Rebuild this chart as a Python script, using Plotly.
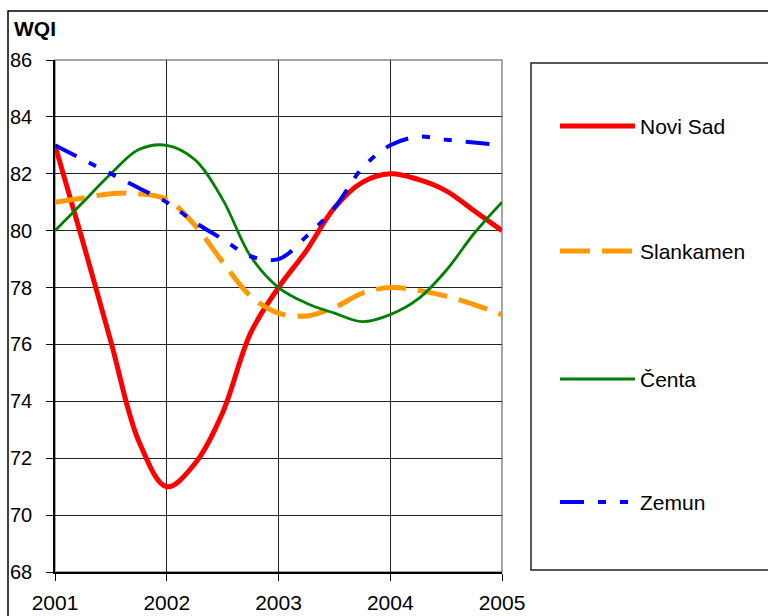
import plotly.graph_objects as go

# ---- data (quarterly points 2001..2005) ----
years = [2001.0, 2001.25, 2001.5, 2001.75, 2002.0, 2002.25, 2002.5, 2002.75,
         2003.0, 2003.25, 2003.5, 2003.75, 2004.0, 2004.25, 2004.5, 2004.75, 2005.0]
novi_sad = [83.0, 79.6, 76.1, 72.6, 71.0, 71.8, 73.6, 76.4,
            78.0, 79.3, 80.8, 81.7, 82.0, 81.8, 81.4, 80.7, 80.0]
slankamen = [81.0, 81.15, 81.3, 81.3, 81.1, 80.2, 78.9, 77.7,
             77.1, 77.0, 77.3, 77.8, 78.0, 77.9, 77.7, 77.4, 77.05]
centa = [80.0, 81.0, 82.0, 82.85, 83.0, 82.5, 81.1, 79.1,
         78.0, 77.45, 77.1, 76.8, 77.05, 77.6, 78.6, 79.9, 81.0]
zemun = [83.0, 82.5, 82.0, 81.5, 81.0, 80.3, 79.7, 79.1,
         79.0, 79.8, 80.8, 82.2, 83.0, 83.3, 83.2, 83.1, 83.0]

series_names = ["Novi Sad", "Slankamen", "Čenta", "Zemun"]
series_values = [novi_sad, slankamen, centa, zemun]
series_colors = ["#FF0000", "#FF9900", "#008000", "#0000FF"]
series_widths = [5, 5, 2.8, 4]
series_dash = ["solid", "30px,12px", "solid", "24px,14px,8px,14px,8px,14px"]

y_ticks = [68, 70, 72, 74, 76, 78, 80, 82, 84, 86]
x_ticks = [2001, 2002, 2003, 2004, 2005]

FONT = "Arial, Liberation Sans, sans-serif"
W, H = 768, 616
L, R, T, B = 55, 502, 60, 572  # plot area in pixels


def px(x, y):
    return (x - L) / (R - L), (B - y) / (B - T)


fig = go.Figure()
for name, vals, col, wd, ds in zip(series_names, series_values, series_colors,
                                   series_widths, series_dash):
    fig.add_trace(go.Scatter(
        x=years, y=vals, mode="lines", name=name,
        line=dict(color=col, width=wd, dash=ds, shape="spline", smoothing=1.0),
        showlegend=False, cliponaxis=True))

shapes = []
# outer chart border (top & left visible)
x0, y0 = px(8, 11)
x1, y1 = px(800, 650)
shapes.append(dict(type="rect", xref="paper", yref="paper", x0=x0, y0=y1, x1=x1, y1=y0,
                   line=dict(color="black", width=1.5), layer="below"))
# plot area border (grey)
shapes.append(dict(type="rect", xref="paper", yref="paper", x0=0, y0=0, x1=1, y1=1,
                   line=dict(color="#888888", width=1.5), layer="below"))
# legend box
lx0, ly0 = px(531, 63)
lx1, ly1 = px(800, 570)
shapes.append(dict(type="rect", xref="paper", yref="paper", x0=lx0, y0=ly1, x1=lx1, y1=ly0,
                   line=dict(color="#222222", width=1.5)))

legend_y = [126, 251, 379, 502]
annotations = []
for name, col, wd, ds, ly in zip(series_names, series_colors, series_widths,
                                 series_dash, legend_y):
    a0, b0 = px(560, ly)
    a1, _ = px(635, ly)
    shapes.append(dict(type="line", xref="paper", yref="paper", x0=a0, y0=b0, x1=a1, y1=b0,
                       line=dict(color=col, width=wd, dash=ds)))
    tx, ty = px(638, ly)
    annotations.append(dict(xref="paper", yref="paper", x=tx, y=ty, text=name,
                            showarrow=False, xanchor="left", yanchor="middle",
                            font=dict(family=FONT, size=21, color="black")))

wx, wy = px(12, 28)
annotations.append(dict(xref="paper", yref="paper", x=wx, y=wy, text="<b>WQI</b>",
                        showarrow=False, xanchor="left", yanchor="middle",
                        font=dict(family=FONT, size=21, color="black")))

fig.update_layout(
    width=W, height=H,
    margin=dict(l=L, r=W - R, t=T, b=H - B, pad=0, autoexpand=False),
    paper_bgcolor="white", plot_bgcolor="white",
    shapes=shapes, annotations=annotations,
    showlegend=False,
    font=dict(family=FONT, size=20, color="black"),
)
fig.update_xaxes(
    range=[2001, 2005], tickvals=x_ticks, ticktext=[str(v) for v in x_ticks],
    showgrid=True, gridcolor="#222222", gridwidth=1,
    showline=True, linecolor="black", linewidth=1.5,
    ticks="outside", ticklen=7, tickcolor="black", tickwidth=1,
    ticklabelstandoff=4, zeroline=False, automargin=False,
    tickfont=dict(family=FONT, size=21, color="black"))
fig.update_yaxes(
    range=[68, 86], tickvals=y_ticks, ticktext=[str(v) for v in y_ticks],
    showgrid=True, gridcolor="#222222", gridwidth=1,
    showline=True, linecolor="black", linewidth=1.5,
    ticks="outside", ticklen=7, tickcolor="black", tickwidth=1,
    ticklabelstandoff=10, zeroline=False, automargin=False,
    tickfont=dict(family=FONT, size=20, color="black"))

fig.write_html("out.html", config={"displayModeBar": False},
               post_script="document.body.style.margin='0';document.body.style.overflow='hidden';")
